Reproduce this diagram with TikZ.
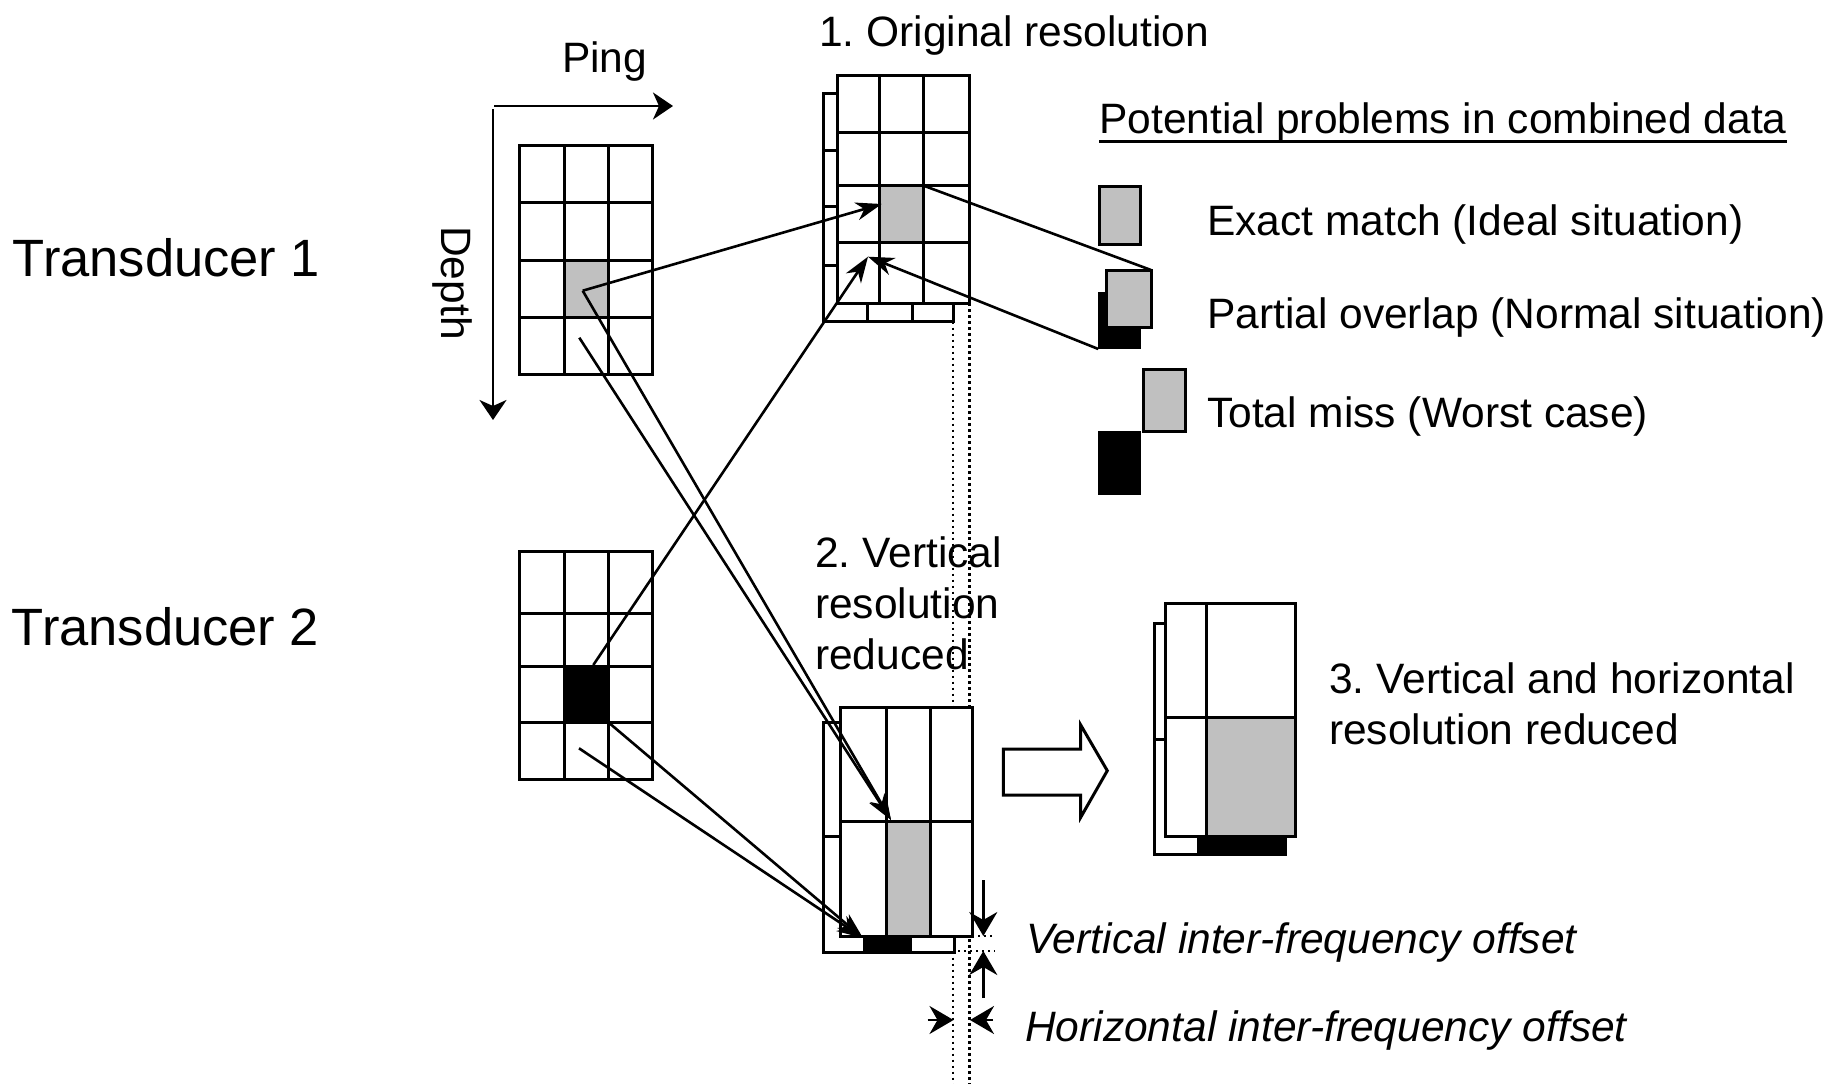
\documentclass[tikz,border=0pt]{standalone}
\usepackage{fontspec}
\setmainfont{Liberation Sans}
\usetikzlibrary{arrows.meta}
\definecolor{cellgrey}{RGB}{192,192,192}
\frenchspacing
\newcommand{\gridlines}[6]{%
  \foreach \xx in {#5} \draw[gridline] (\xx,#2) -- (\xx,#4);
  \foreach \yy in {#6} \draw[gridline] (#1,\yy) -- (#3,\yy);
  \draw[gridline] (#1,#2) rectangle (#3,#4);
}
\begin{document}
\begin{tikzpicture}[x=1pt,y=-1pt,
  gridline/.style={line width=3pt},
  conn/.style={line width=2.6pt},
  tipped/.style={conn,-{Stealth[length=26pt,width=18pt,inset=8pt]}},
  axisarrow/.style={line width=2.6pt,-{Stealth[length=20pt,width=27pt,inset=6pt]}},
  offarrow/.style={line width=2.6pt,-{Stealth[length=24pt,width=28pt,inset=8pt]}},
  dotline/.style={line width=2.2pt,dash pattern=on 2.4pt off 3.6pt},
  lbl/.style={inner sep=0pt,anchor=base west,font=\fontsize{42.5}{51}\selectfont},
  biglbl/.style={lbl,font=\fontsize{52.5}{63}\selectfont},
  itlbl/.style={lbl,font=\fontsize{42.5}{51}\selectfont\itshape}]
\fill[white] (0,0) rectangle (1834,1084);
\useasboundingbox (0,0) rectangle (1834,1084);

% ---- dotted guide lines
\draw[dotline] (953.3,321.7) -- (953.3,1084);
\draw[dotline] (969.5,303.3) -- (969.5,1084);
\draw[dotline] (972,936) -- (995,936);
\draw[dotline] (946,950.7) -- (995,950.7);

% ---- axes
\coordinate (pingA) at (494,106);
\coordinate (pingB) at (673,106);
\coordinate (depA) at (493,109);
\coordinate (depB) at (493,420);
\draw[axisarrow] (pingA) -- (pingB);
\draw[axisarrow] (depA) -- (depB);
\node[lbl] (ping) at (562,72.7) {Ping};
\node[inner sep=0pt,rotate=-90,font=\fontsize{42.5}{51}\selectfont] (depth) at (452,283) {Depth};

% ---- Transducer 1 grid
\fill[white] (519,145) rectangle (652.7,374);
\fill[cellgrey] (564,260) rectangle (608,317);
\gridlines{519}{145}{652.7}{374}{564,608}{202,260,317}

% ---- Transducer 2 grid
\fill[white] (519,551) rectangle (652.7,779);
\fill[black] (564,666) rectangle (608,722);
\gridlines{519}{551}{652.7}{779}{564,608}{613,666,722}

% ---- 1. Original resolution (back + front)
\fill[white] (823.3,93.3) rectangle (953.3,321.7);
\gridlines{823.3}{93.3}{953.3}{321.7}{867.7,912.7}{150,206.7,265}
\fill[white] (837.7,75) rectangle (969,303.3);
\fill[cellgrey] (879,185.7) rectangle (923.7,242);
\gridlines{837.7}{75}{969}{303.3}{879,923.7}{132.7,185.7,242}

% ---- 2. Vertical resolution reduced (back + front)
\fill[white] (823.3,722.7) rectangle (954,952.7);
\fill[black] (863.3,836.7) rectangle (910.7,952.7);
\gridlines{823.3}{722.7}{954}{952.7}{865,910.7}{836.7}
\fill[white] (840.7,707.7) rectangle (972,936);
\fill[cellgrey] (886,821.7) rectangle (930,936);
\gridlines{840.7}{707.7}{972}{936}{886,930}{821.7}

% ---- 3. Vertical and horizontal resolution reduced (back + front)
\fill[white] (1154.7,623.7) rectangle (1285.7,854);
\fill[black] (1198.3,739) rectangle (1285.7,854);
\gridlines{1154.7}{623.7}{1285.7}{854}{1198.3}{739}
\fill[white] (1165.7,603.3) rectangle (1295.7,836.7);
\fill[cellgrey] (1206.7,717) rectangle (1295.7,836.7);
\gridlines{1165.7}{603.3}{1295.7}{836.7}{1206.7}{717}

% ---- hollow arrow
\draw[gridline,fill=white] (1003.3,749) -- (1080.7,749) -- (1080.7,725) -- (1107.3,770.7)
  -- (1080.7,817.3) -- (1080.7,795) -- (1003.3,795) -- cycle;

% ---- legend icons
\draw[gridline,fill=cellgrey] (1099,186.7) rectangle (1140.7,244);
\fill[black] (1098.3,292) rectangle (1141,349);
\draw[gridline,fill=cellgrey] (1106,270) rectangle (1151,327.7);
\draw[gridline,fill=cellgrey] (1143.3,369) rectangle (1185,431.7);
\fill[black] (1098.3,431) rectangle (1141,495);

% ---- connector end points
\coordinate (g1c) at (582.7,290.7);
\coordinate (g1b) at (579.3,337.7);
\coordinate (g2in) at (881.7,204);
\coordinate (g2in2) at (868,256.7);
\coordinate (g2gtr) at (923.7,185.7);
\coordinate (t2top) at (593.3,665);
\coordinate (t2br) at (608,722);
\coordinate (t2b) at (579,748.3);
\coordinate (g4top) at (891,820);
\coordinate (g4bot) at (863,938);
\coordinate (potr) at (1151,270);
\coordinate (pobl) at (1098.3,349);

% ---- connectors
\draw[tipped] (g1c) -- (g2in);
\draw[tipped] (t2top) -- (g2in2);
\draw[tipped] (pobl) -- (g2in2);
\draw[conn] (g2gtr) -- (potr);
\draw[tipped] (g1b) -- (g4top);
\draw[tipped] (g1c) -- (g4top);
\draw[tipped] (t2b) -- (g4bot);
\draw[tipped] (t2br) -- (g4bot);

% ---- offset arrows
\coordinate (va1) at (983.3,880);  \coordinate (va1t) at (983.3,936);
\coordinate (va2) at (983.3,998);  \coordinate (va2t) at (983.3,951);
\coordinate (ha1) at (927.7,1020); \coordinate (ha1t) at (953.5,1020);
\coordinate (ha2) at (993,1020); \coordinate (ha2t) at (970,1020);
\draw[offarrow] (va1) -- (va1t);
\draw[offarrow] (va2) -- (va2t);
\draw[offarrow] (ha1) -- (ha1t);
\draw[offarrow] (ha2) -- (ha2t);

% ---- texts
\node[biglbl] (t1) at (12.7,276.7) {Transducer 1};
\node[biglbl] (t2) at (11.7,645) {Transducer 2};
\node[lbl] (orig) at (819,46) {1. Original resolution};
\node[lbl] (pp) at (1099,133) {Potential problems in combined data};
\draw[line width=3pt] ([yshift=-8pt]pp.base west) -- ([yshift=-8pt]pp.base east);
\node[lbl] (exact) at (1207,235) {Exact match (Ideal situation)};
\node[lbl] (partial) at (1207,328.7) {Partial overlap (Normal situation)};
\node[lbl] (total) at (1207,427) {Total miss (Worst case)};
\node[lbl] (vr1) at (815,567) {2. Vertical};
\node[lbl] (vr2) at (815,618) {resolution};
\node[lbl] (vr3) at (815,669) {reduced};
\node[lbl] (vh1) at (1329,693.6) {3. Vertical and horizontal};
\node[lbl] (vh2) at (1329,744) {resolution reduced};
\node[itlbl] (voff) at (1026,953) {Vertical inter-frequency offset};
\node[itlbl] (hoff) at (1025,1041) {Horizontal inter-frequency offset};
\end{tikzpicture}
\end{document}
